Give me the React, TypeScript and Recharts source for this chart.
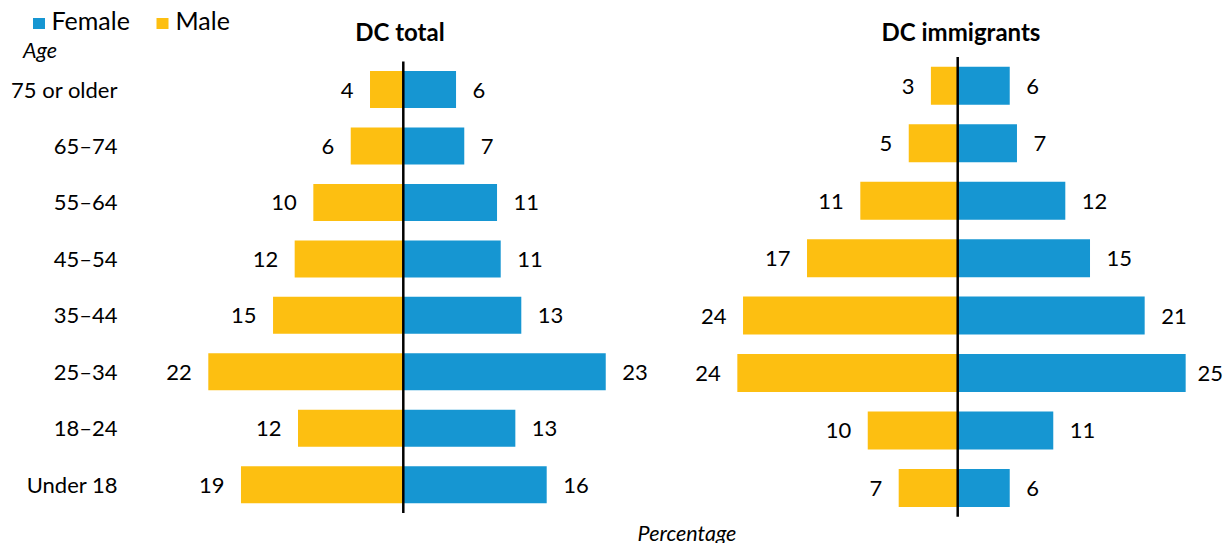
import React from 'react';
import { BarChart, Bar, XAxis, YAxis, ReferenceLine, LabelList } from 'recharts';

const ageGroups = ['75 or older', '65–74', '55–64', '45–54', '35–44', '25–34', '18–24', 'Under 18'];
const totalMale = [3.8, 6.0, 10.27, 12.4, 14.87, 22.26, 12.02, 18.53];
const totalFemale = [6.02, 6.96, 10.7, 11.12, 13.47, 23.11, 12.79, 16.37];
const immMale = [2.96, 5.41, 10.76, 16.65, 23.72, 24.35, 9.94, 6.52];
const immFemale = [5.75, 6.55, 11.89, 14.62, 20.66, 25.19, 10.56, 5.75];

const BLUE = '#1696d2';
const YELLOW = '#fdbf11';
const FONT = 'Lato, "Open Sans", sans-serif';

const totalData = ageGroups.map((age, i) => ({ age, male: -totalMale[i], female: totalFemale[i] }));
const immData = ageGroups.map((age, i) => ({ age, male: -immMale[i], female: immFemale[i] }));

const LABEL_GAP = 16.5;

const MaleLabel = (props: any) => {
  const { x, y, width, height, value } = props;
  const left = Math.min(Number(x), Number(x) + Number(width));
  return (
    <text x={left - LABEL_GAP} y={Number(y) + Number(height) / 2} dy="0.36em" textAnchor="end"
      fontSize={22} fontFamily={FONT} fill="#000">
      {Math.round(Math.abs(Number(value)))}
    </text>
  );
};

const makeFemaleLabel = (limit: number) => (props: any) => {
  const { x, y, width, height, value } = props;
  const right = Math.max(Number(x), Number(x) + Number(width));
  const txt = String(Math.round(Math.abs(Number(value))));
  const w = txt.length * 12.8;
  const tx = Math.min(right + LABEL_GAP, limit - w);
  return (
    <text x={tx} y={Number(y) + Number(height) / 2} dy="0.36em" textAnchor="start"
      fontSize={22} fontFamily={FONT} fill="#000">
      {txt}
    </text>
  );
};

const FemaleLabelLeft = makeFemaleLabel(680);
const FemaleLabelRight = makeFemaleLabel(543);

export default function App() {
  return (
    <div style={{ position: 'absolute', left: 0, top: 0, width: 1225, height: 543, background: '#fff', fontFamily: FONT }}>
      <div style={{ position: 'absolute', left: 0, top: 0 }}>
        <BarChart width={680} height={543} data={totalData} layout="vertical" stackOffset="sign"
          barCategoryGap="17%" margin={{ top: 61.5, bottom: 30, left: 0, right: 57.7 }}>
          <XAxis type="number" domain={[-25, 25]} hide />
          <YAxis type="category" dataKey="age" width={184.3} axisLine={false} tickLine={false}
            tickSize={0} tickMargin={66.8} interval={0}
            tick={{ fontSize: 22, fill: '#000', fontFamily: FONT }} />
          <Bar dataKey="male" stackId="a" fill={YELLOW} isAnimationActive={false}>
            <LabelList dataKey="male" content={MaleLabel} />
          </Bar>
          <Bar dataKey="female" stackId="a" fill={BLUE} isAnimationActive={false}>
            <LabelList dataKey="female" content={FemaleLabelLeft} />
          </Bar>
          <ReferenceLine x={0} stroke="#000" strokeWidth={2.5} />
        </BarChart>
      </div>
      <div style={{ position: 'absolute', left: 680, top: 0 }}>
        <BarChart width={545} height={543} data={immData} layout="vertical" stackOffset="sign"
          barCategoryGap="17%" margin={{ top: 57, bottom: 26.3, left: 42.4, right: 32 }}>
          <XAxis type="number" domain={[-26, 26]} hide />
          <YAxis type="category" dataKey="age" hide />
          <Bar dataKey="male" stackId="a" fill={YELLOW} isAnimationActive={false}>
            <LabelList dataKey="male" content={MaleLabel} />
          </Bar>
          <Bar dataKey="female" stackId="a" fill={BLUE} isAnimationActive={false}>
            <LabelList dataKey="female" content={FemaleLabelRight} />
          </Bar>
          <ReferenceLine x={0} stroke="#000" strokeWidth={2.5} />
        </BarChart>
      </div>
      <svg width={1225} height={543} style={{ position: 'absolute', left: 0, top: 0, pointerEvents: 'none' }}>
        <rect x={33} y={18} width={12} height={11} fill={BLUE} />
        <text x={51.5} y={30} fontSize={25} fontFamily={FONT} fill="#000">Female</text>
        <rect x={156.5} y={18} width={12} height={11} fill={YELLOW} />
        <text x={175.5} y={30} fontSize={25} fontFamily={FONT} fill="#000">Male</text>
        <text x={23} y={58} fontSize={21.5} fontStyle="italic" fontFamily={FONT} fill="#000">Age</text>
        <text x={400} y={41} fontSize={24} fontWeight="bold" textAnchor="middle" fontFamily={FONT} fill="#000">DC total</text>
        <text x={961} y={41} fontSize={24} fontWeight="bold" textAnchor="middle" fontFamily={FONT} fill="#000">DC immigrants</text>
        <text x={687} y={540.5} fontSize={21.5} fontStyle="italic" textAnchor="middle" fontFamily={FONT} fill="#000">Percentage</text>
      </svg>
    </div>
  );
}
